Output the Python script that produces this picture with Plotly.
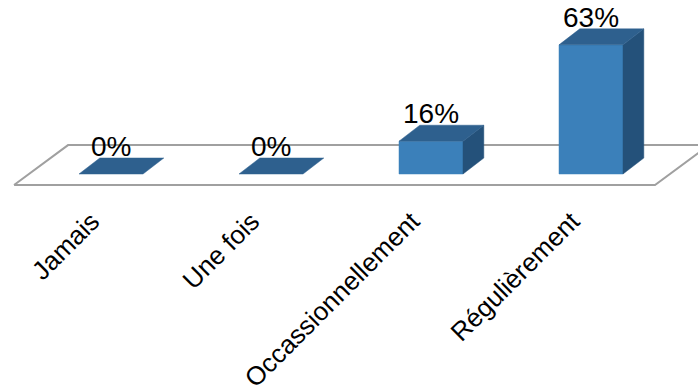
import plotly.graph_objects as go

categories = ["Jamais", "Une fois", "Occassionnellement", "Régulièrement"]
values = [0, 0, 16, 63]
value_labels = ["0%", "0%", "16%", "63%"]

# style / geometry
FRONT = "#3b80ba"
TOP = "#2e608e"
SIDE = "#24517a"
BAR_HALF = 0.2      # half bar width in category units
DX = 0.13           # depth offset (x, category units)
DY = 7.8            # depth offset (y, value units)
FONT = "Liberation Sans, Arial, sans-serif"

fig = go.Figure()
n = len(categories)

# floor (parallelogram)
fl_front_y, fl_back_y = -5.4, 14.1
fl_x0, fl_x1 = -0.606, n - 1 + 0.4
fl_dx = 0.3375
fig.add_trace(go.Scatter(
    x=[fl_x0, fl_x1, fl_x1 + fl_dx, fl_x0 + fl_dx, fl_x0],
    y=[fl_front_y, fl_front_y, fl_back_y, fl_back_y, fl_front_y],
    mode="lines", fill="toself", fillcolor="white",
    line=dict(color="#a0a0a0", width=2), hoverinfo="skip", showlegend=False))


def face(xs, ys, color):
    fig.add_trace(go.Scatter(
        x=xs, y=ys, mode="lines", fill="toself", fillcolor=color,
        line=dict(color=color, width=0.5), hoverinfo="skip", showlegend=False))


for i, v in enumerate(values):
    xl, xr = i - BAR_HALF, i + BAR_HALF
    if v > 0:
        # front face
        face([xl, xr, xr, xl, xl], [0, 0, v, v, 0], FRONT)
        # side face
        face([xr, xr, xr + DX, xr + DX, xr], [0, v, v + DY, DY, 0], SIDE)
    # top face
    face([xl, xr, xr + DX, xl + DX, xl], [v, v, v + DY, v + DY, v], TOP)

for i, (v, t) in enumerate(zip(values, value_labels)):
    fig.add_annotation(x=i, y=v + DY, text=t, showarrow=False,
                       yanchor="bottom", yshift=-6,
                       font=dict(family=FONT, size=28, color="black"))

W, H = 698, 385
plot_h = 200
px_per_unit_y = 2.05
base_px = 174
x0 = -111 / 160
x1 = x0 + W / 160
lab_shift = 0.12
fig.update_layout(
    width=W, height=H,
    margin=dict(l=0, r=0, t=0, b=H - plot_h, autoexpand=False),
    plot_bgcolor="white", paper_bgcolor="white",
    xaxis=dict(range=[x0, x1], visible=False, fixedrange=True,
               automargin=False),
    xaxis2=dict(
        overlaying="x", side="bottom", anchor="y",
        range=[x0 + lab_shift, x1 + lab_shift],
        tickmode="array", tickvals=list(range(n)), ticktext=categories,
        tickangle=-45, showgrid=False, zeroline=False, showline=False,
        ticks="", tickfont=dict(family=FONT, size=26, color="black"),
        fixedrange=True, automargin=False),
    yaxis=dict(
        range=[-(plot_h - base_px) / px_per_unit_y, base_px / px_per_unit_y],
        visible=False, fixedrange=True, automargin=False),
)
# invisible trace to activate the label axis
fig.add_trace(go.Scatter(x=[0], y=[0], xaxis="x2", mode="markers",
                         marker=dict(opacity=0), hoverinfo="skip",
                         showlegend=False))

fig.write_html("out.html")
